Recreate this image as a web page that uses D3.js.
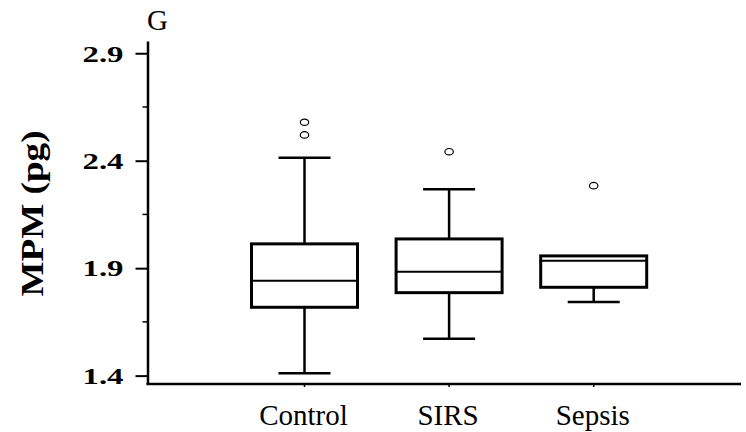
<!DOCTYPE html>
<html>
<head>
<meta charset="utf-8">
<script src="https://cdn.jsdelivr.net/npm/d3@7"></script>
<style>
  html, body { margin: 0; padding: 0; background: #fff; }
  svg { display: block; }
  svg text { font-family: "Liberation Serif", "Times New Roman", Times, "DejaVu Serif", serif; }
</style>
</head>
<body>
<svg id="chart" width="746" height="432"></svg>
<script>
// Groups and their box-plot summaries (MPM, pg)
const categories = ["Control", "SIRS", "Sepsis"];
const whiskerLow  = [1.411, 1.571, 1.742];
const boxLow      = [1.718, 1.786, 1.811];
const medians     = [1.841, 1.883, 1.935];
const boxHigh     = [2.013, 2.036, 1.957];
const whiskerHigh = [2.414, 2.267, 1.957];
const outliers    = [[2.579, 2.520], [2.442], [2.284]];

const majorTicks = [1.4, 1.9, 2.4, 2.9];
const minorTicks = [1.65, 2.15, 2.65];

const svg = d3.select("#chart");
const axisX = 147.5, axisBottom = 384, axisTop = 41, axisRight = 741;

const y = d3.scaleLinear().domain([1.361, 2.957]).range([axisBottom, axisTop]);
const x = d3.scalePoint().domain(categories).range([304.5, 593.7]);
const boxW = 106, capW = 52;

// Panel letter
svg.append("text")
  .attr("x", 147).attr("y", 30)
  .style("font-size", "29px")
  .text("G");

// Y axis with major ticks
const yAxis = svg.append("g")
  .attr("transform", `translate(${axisX},0)`)
  .call(d3.axisLeft(y).tickValues(majorTicks).tickSize(12).tickSizeOuter(0)
        .tickPadding(12).tickFormat(d3.format(".1f")));
yAxis.attr("font-family", null);
yAxis.select(".domain").attr("stroke-width", 2.5);
yAxis.selectAll(".tick line").attr("stroke-width", 2);
yAxis.selectAll(".tick text")
  .style("font-weight", "bold").style("font-size", "23px")
  .attr("dy", "0.34em")
  .attr("textLength", 41).attr("lengthAdjust", "spacingAndGlyphs");

// Minor ticks
svg.append("g").selectAll("line").data(minorTicks).join("line")
  .attr("x1", axisX - 5).attr("x2", axisX)
  .attr("y1", d => y(d)).attr("y2", d => y(d))
  .attr("stroke", "#000").attr("stroke-width", 1.5);

// X axis baseline
svg.append("line")
  .attr("x1", axisX - 1).attr("x2", axisRight)
  .attr("y1", axisBottom).attr("y2", axisBottom)
  .attr("stroke", "#000").attr("stroke-width", 2.5);
svg.append("g").selectAll("line").data(categories).join("line")
  .attr("x1", d => x(d)).attr("x2", d => x(d))
  .attr("y1", axisBottom).attr("y2", axisBottom + 3)
  .attr("stroke", "#000").attr("stroke-width", 1.5);

// Category labels
svg.append("g").selectAll("text").data(categories).join("text")
  .attr("x", d => x(d) - 1).attr("y", 425)
  .attr("text-anchor", "middle")
  .style("font-size", "29px")
  .text(d => d);

// Y axis title
svg.append("text")
  .attr("transform", "translate(43,213.5) rotate(-90)")
  .attr("text-anchor", "middle")
  .style("font-weight", "bold").style("font-size", "32px")
  .attr("textLength", 166).attr("lengthAdjust", "spacingAndGlyphs")
  .text("MPM (pg)");

// Box plots
const groups = svg.append("g").selectAll("g").data(categories).join("g");

groups.each(function(c, i) {
  const g = d3.select(this);
  const cx = x(c);
  // whiskers
  g.append("line")
    .attr("x1", cx).attr("x2", cx)
    .attr("y1", y(whiskerLow[i])).attr("y2", y(boxLow[i]))
    .attr("stroke", "#000").attr("stroke-width", 2.5);
  g.append("line")
    .attr("x1", cx).attr("x2", cx)
    .attr("y1", y(whiskerHigh[i])).attr("y2", y(boxHigh[i]))
    .attr("stroke", "#000").attr("stroke-width", 2.5);
  g.append("line")
    .attr("x1", cx - capW / 2).attr("x2", cx + capW / 2)
    .attr("y1", y(whiskerLow[i])).attr("y2", y(whiskerLow[i]))
    .attr("stroke", "#000").attr("stroke-width", 2.5);
  if (whiskerHigh[i] > boxHigh[i]) {
    g.append("line")
      .attr("x1", cx - capW / 2).attr("x2", cx + capW / 2)
      .attr("y1", y(whiskerHigh[i])).attr("y2", y(whiskerHigh[i]))
      .attr("stroke", "#000").attr("stroke-width", 2.5);
  }
  // box
  g.append("rect")
    .attr("x", cx - boxW / 2).attr("width", boxW)
    .attr("y", y(boxHigh[i])).attr("height", y(boxLow[i]) - y(boxHigh[i]))
    .attr("fill", "#fff").attr("stroke", "#000").attr("stroke-width", 3);
  // median
  g.append("line")
    .attr("x1", cx - boxW / 2).attr("x2", cx + boxW / 2)
    .attr("y1", y(medians[i])).attr("y2", y(medians[i]))
    .attr("stroke", "#000").attr("stroke-width", 2);
  // outliers
  g.selectAll("ellipse").data(outliers[i]).join("ellipse")
    .attr("cx", cx).attr("cy", d => y(d))
    .attr("rx", 4.2).attr("ry", 3.2)
    .attr("fill", "none").attr("stroke", "#000").attr("stroke-width", 1.2);
});
</script>
</body>
</html>
